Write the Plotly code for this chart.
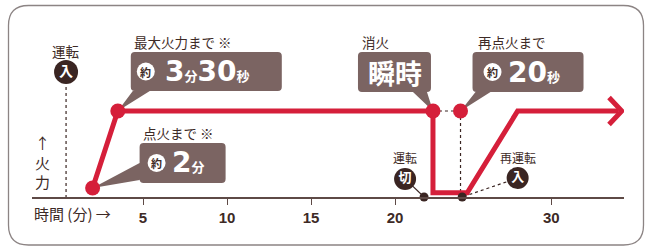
import plotly.graph_objects as go

# ---------------- data ----------------
fire_time = [2.0, 3.5, 22.26, 22.26, 24.3, 27.3, 33.3]
fire_level = [0.105, 1.0, 1.0, 0.05, 0.05, 1.0, 1.0]
arrow_time = [32.74, 33.5, 32.74]
arrow_level = [1.157, 1.0, 0.843]

red_dot_time = [2.0, 3.5, 22.26, 23.9]
red_dot_level = [0.105, 1.0, 1.0, 1.0]

switch_time = [21.73, 24.0]          # 運転切 / 再運転入 on the time axis
switch_level = [0.0, 0.0]

start_time = 0.42                    # 運転入
tick_positions = [5, 10, 15, 20, 29.3]
tick_labels = ["5", "10", "15", "20", "30"]

RED = "#d51f3a"
DARK = "#3a2522"
BOX = "#7b6462"
TXT = "#3d2a26"
JP = "Noto Sans CJK JP"

W, H = 646, 247
ML, MR, MT, MB = 32, 22, 0, 50
PX_PER_MIN = 16.8
PX_PER_LEVEL = 86
x_range = [-(27 / PX_PER_MIN), (624 - 59) / PX_PER_MIN]
y_range = [0, (H - MB - MT) / PX_PER_LEVEL]

fig = go.Figure()

# dotted guides
fig.add_trace(go.Scatter(x=[start_time, start_time], y=[1.28, 0], mode="lines",
                         line=dict(color=DARK, width=1.2, dash="dot"), hoverinfo="skip"))
fig.add_trace(go.Scatter(x=[red_dot_time[2], red_dot_time[3]], y=[1, 1], mode="lines",
                         line=dict(color=DARK, width=1.2, dash="dot"), hoverinfo="skip"))
fig.add_trace(go.Scatter(x=[red_dot_time[3], red_dot_time[3]], y=[1, 0], mode="lines",
                         line=dict(color=DARK, width=1.2, dash="dot"), hoverinfo="skip"))

# connectors from the 切 / 入 badges to the axis dots
badge_x = [20.6, 27.3]
badge_y = [0.21, 0.22]
fig.add_trace(go.Scatter(x=[badge_x[0], switch_time[0]], y=[badge_y[0], 0], mode="lines",
                         line=dict(color=DARK, width=1.2), hoverinfo="skip"))
fig.add_trace(go.Scatter(x=[badge_x[1], switch_time[1]], y=[badge_y[1], 0], mode="lines",
                         line=dict(color=DARK, width=1.2, dash="dot"), hoverinfo="skip"))

# fire line
fig.add_trace(go.Scatter(x=fire_time, y=fire_level, mode="lines",
                         line=dict(color=RED, width=5), hoverinfo="skip"))
fig.add_trace(go.Scatter(x=arrow_time, y=arrow_level, mode="lines",
                         line=dict(color=RED, width=5), hoverinfo="skip"))

# red dots
fig.add_trace(go.Scatter(x=red_dot_time, y=red_dot_level, mode="markers",
                         marker=dict(color=RED, size=15), cliponaxis=False, hoverinfo="skip"))
# dark dots on the axis
fig.add_trace(go.Scatter(x=switch_time, y=switch_level, mode="markers",
                         marker=dict(color=DARK, size=9), cliponaxis=False, hoverinfo="skip"))

# badges
fig.add_trace(go.Scatter(x=[start_time], y=[1.453], mode="markers+text", text=["<b>入</b>"],
                         textposition="middle center",
                         textfont=dict(color="white", size=14, family=JP),
                         marker=dict(color=DARK, size=24), hoverinfo="skip"))
fig.add_trace(go.Scatter(x=badge_x, y=badge_y, mode="markers+text", text=["<b>切</b>", "<b>入</b>"],
                         textposition="middle center",
                         textfont=dict(color="white", size=13, family=JP),
                         marker=dict(color=DARK, size=22), hoverinfo="skip"))

shapes = []
annotations = []


def rbox(L, R, T, B, r, ptr):
    edge, p0, p1 = ptr
    pts = [f"M{L + r},{T}", f"L{R - r},{T}", f"Q{R},{T} {R},{T - r}", f"L{R},{B + r}",
           f"Q{R},{B} {R - r},{B}"]
    if edge == "bottom":
        pts += [f"L{p1},{B}", "L0,0", f"L{p0},{B}"]
    pts += [f"L{L + r},{B}", f"Q{L},{B} {L},{B + r}"]
    if edge == "left":
        pts += [f"L{L},{p0}", "L0,0", f"L{L},{p1}"]
    pts += [f"L{L},{T - r}", f"Q{L},{T} {L + r},{T}", "Z"]
    return " ".join(pts)


def add_callout(ax, ay, box, ptr, title, title_dx, body, body_dx, body_center=False,
                circle_dx=None, body_size=28):
    L, R, T, B = box
    shapes.append(dict(type="path", xref="x", yref="y", xsizemode="pixel", ysizemode="pixel",
                       xanchor=ax, yanchor=ay, path=rbox(L, R, T, B, 4, ptr),
                       fillcolor=BOX, line=dict(width=0), layer="below"))
    cy = (T + B) / 2
    annotations.append(dict(x=ax, y=ay, xref="x", yref="y", text=title, showarrow=False,
                            xanchor="left", yanchor="middle", xshift=title_dx, yshift=T + 10,
                            font=dict(family=JP, size=13.5, color=TXT)))
    if circle_dx is not None:
        shapes.append(dict(type="circle", xref="x", yref="y", xsizemode="pixel", ysizemode="pixel",
                           xanchor=ax, yanchor=ay, x0=circle_dx - 9, x1=circle_dx + 9,
                           y0=cy - 9, y1=cy + 9, fillcolor="white", line=dict(width=0)))
        annotations.append(dict(x=ax, y=ay, xref="x", yref="y", text="<b>約</b>", showarrow=False,
                                xanchor="center", yanchor="middle", xshift=circle_dx, yshift=cy,
                                font=dict(family=JP, size=11, color=TXT)))
    annotations.append(dict(x=ax, y=ay, xref="x", yref="y", text=body, showarrow=False,
                            xanchor="center" if body_center else "left", yanchor="middle",
                            xshift=body_dx, yshift=cy,
                            font=dict(family="DejaVu Sans, " + JP, size=body_size, color="white")))


small = "<span style='font-size:13px'>{}</span>"
add_callout(red_dot_time[1], red_dot_level[1], (13, 164, 59, 20), ("bottom", 15, 32),
            "最大火力まで ※", 14,
            "<b>3" + small.format("分") + "30" + small.format("秒") + "</b>", 45, circle_dx=28)
add_callout(red_dot_time[0], red_dot_level[0], (47, 133, 45, 5), ("left", 8, 25),
            "点火まで ※", 48,
            "<b>2" + small.format("分") + "</b>", 77, circle_dx=64)
add_callout(red_dot_time[2], red_dot_level[2], (-75, -2, 59, 19), ("bottom", -20, -6),
            "消火", -73, "<b><span style='font-family:Noto Sans CJK JP'>瞬時</span></b>", -38,
            body_center=True, body_size=27)
add_callout(red_dot_time[3], red_dot_level[3], (12, 123, 59, 19), ("bottom", 15, 30),
            "再点火まで", 15,
            "<b>20" + small.format("秒") + "</b>", 45, circle_dx=32)

# badge titles
annotations.append(dict(x=start_time, y=1.453, xref="x", yref="y", text="運転", showarrow=False,
                        yshift=21, font=dict(family=JP, size=13.5, color=TXT)))
annotations.append(dict(x=badge_x[0], y=badge_y[0], xref="x", yref="y", text="運転", showarrow=False,
                        yshift=21, font=dict(family=JP, size=12, color=TXT)))
annotations.append(dict(x=badge_x[1], y=badge_y[1], xref="x", yref="y", text="再運転", showarrow=False,
                        yshift=21, font=dict(family=JP, size=12, color=TXT)))

# axis titles
annotations.append(dict(x=0, y=-16 / (H - MB), xref="paper", yref="paper", text="時間 (分) →",
                        showarrow=False, xanchor="left", yanchor="middle",
                        font=dict(family=JP, size=15, color=TXT)))
annotations.append(dict(x=(42 - ML) / (W - ML - MR), y=(197 - 162) / (H - MB), xref="paper",
                        yref="paper", text="↑<br>火<br>力", showarrow=False, xanchor="center",
                        yanchor="middle", align="center",
                        font=dict(family=JP, size=15, color=TXT)))


# outer rounded frame (paper coords)
def px(xp):
    return (xp - ML) / (W - ML - MR)


def py(yp):
    return (H - MB - yp) / (H - MB)


fl, fr, ft, fb, rr = 8.5, 643.5, 5.5, 245, 20
frame = (f"M{px(fl + rr)},{py(ft)} L{px(fr - rr)},{py(ft)} Q{px(fr)},{py(ft)} {px(fr)},{py(ft + rr)} "
         f"L{px(fr)},{py(fb - rr)} Q{px(fr)},{py(fb)} {px(fr - rr)},{py(fb)} "
         f"L{px(fl + rr)},{py(fb)} Q{px(fl)},{py(fb)} {px(fl)},{py(fb - rr)} "
         f"L{px(fl)},{py(ft + rr)} Q{px(fl)},{py(ft)} {px(fl + rr)},{py(ft)} Z")
shapes.append(dict(type="path", xref="paper", yref="paper", path=frame,
                   line=dict(color="#8c8484", width=1.3), layer="below"))

fig.update_layout(
    width=W, height=H, margin=dict(l=ML, r=MR, t=MT, b=MB),
    paper_bgcolor="white", plot_bgcolor="rgba(0,0,0,0)", showlegend=False,
    shapes=shapes, annotations=annotations,
    xaxis=dict(range=x_range, tickvals=tick_positions,
               ticktext=[f"<b>{t}</b>" for t in tick_labels], showgrid=False,
               zeroline=False, showline=True, linecolor="#5e4a46", linewidth=1.5,
               ticks="outside", ticklen=6, tickcolor="#5e4a46", tickwidth=1,
               tickfont=dict(family="Liberation Sans", size=15, color=TXT), fixedrange=True),
    yaxis=dict(range=y_range, visible=False, fixedrange=True),
)

fig.write_html("out.html", config={"displayModeBar": False},
               post_script="document.body.style.margin='0';document.body.style.overflow='hidden';")
